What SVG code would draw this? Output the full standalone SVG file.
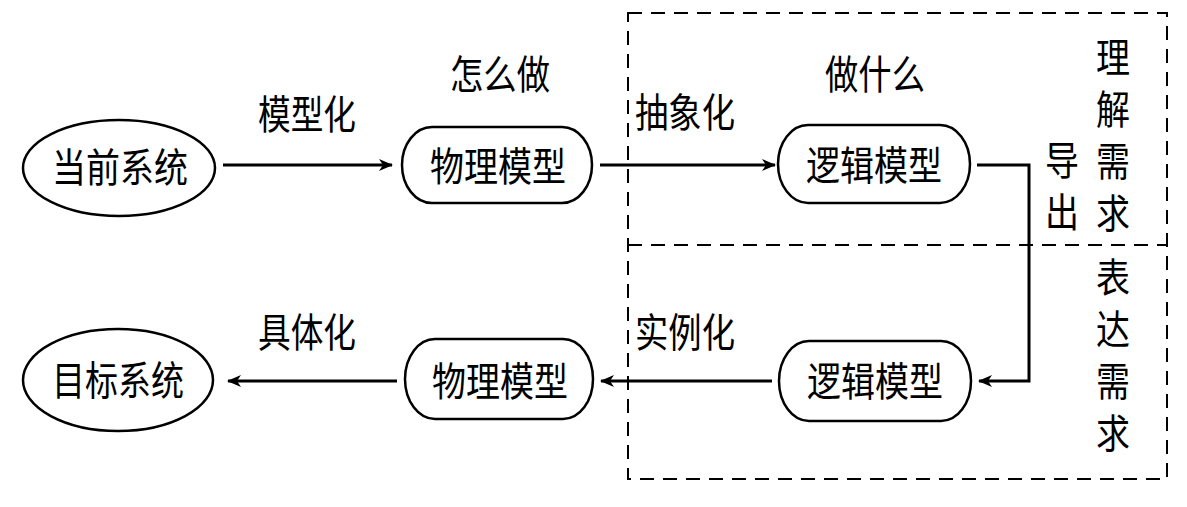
<svg xmlns="http://www.w3.org/2000/svg" width="1187" height="507" viewBox="0 0 1187 507">
<style>
text{font-family:"Noto Sans CJK SC","Noto Sans",sans-serif;font-size:40px;fill:#000;}
.c{text-anchor:middle;}
.v{writing-mode:vertical-rl;text-orientation:upright;letter-spacing:12px;}
.node{fill:#fff;stroke:#000;stroke-width:2.5;}
.conn{fill:none;stroke:#000;stroke-width:3;}
.dash{fill:none;stroke:#000;stroke-width:2;stroke-dasharray:14 9;}
</style>
<defs>
<marker id="arr" viewBox="0 0 14 12" refX="13" refY="6" markerWidth="14" markerHeight="12" markerUnits="userSpaceOnUse" orient="auto">
<path d="M0,0 L14,6 L0,12 L4,6 z" fill="#000"/>
</marker>
</defs>
<g id="frame">
<rect class="dash" x="628" y="13" width="539" height="466"/>
<line class="dash" x1="628" y1="245" x2="1167" y2="245"/>
</g>
<g id="connectors">
<line class="conn" x1="223" y1="165" x2="392" y2="165" marker-end="url(#arr)"/>
<line class="conn" x1="600" y1="165" x2="775" y2="165" marker-end="url(#arr)"/>
<polyline class="conn" points="977,165 1029,165 1029,381 979,381" marker-end="url(#arr)"/>
<line class="conn" x1="772" y1="381" x2="601" y2="381" marker-end="url(#arr)"/>
<line class="conn" x1="397" y1="381" x2="228" y2="381" marker-end="url(#arr)"/>
</g>
<g id="n-current">
<ellipse class="node" cx="119" cy="168" rx="96" ry="48"/>
<text class="c" x="120" y="182" textLength="136" lengthAdjust="spacingAndGlyphs">当前系统</text>
</g>
<g id="n-phys1">
<rect class="node" x="402" y="127" width="190" height="76" rx="30" ry="38"/>
<text class="c" x="498" y="181" textLength="136" lengthAdjust="spacingAndGlyphs">物理模型</text>
</g>
<g id="n-logic1">
<rect class="node" x="778" y="125" width="192" height="78" rx="30" ry="39"/>
<text class="c" x="874" y="180" textLength="136" lengthAdjust="spacingAndGlyphs">逻辑模型</text>
</g>
<g id="n-logic2">
<rect class="node" x="779" y="341" width="192" height="80" rx="30" ry="40"/>
<text class="c" x="875" y="396" textLength="136" lengthAdjust="spacingAndGlyphs">逻辑模型</text>
</g>
<g id="n-phys2">
<rect class="node" x="405" y="339" width="188" height="80" rx="30" ry="40"/>
<text class="c" x="500" y="396" textLength="136" lengthAdjust="spacingAndGlyphs">物理模型</text>
</g>
<g id="n-target">
<ellipse class="node" cx="118" cy="380" rx="95" ry="51"/>
<text class="c" x="118" y="395" textLength="132" lengthAdjust="spacingAndGlyphs">目标系统</text>
</g>
<g id="labels">
<text class="c" x="307" y="129" textLength="98" lengthAdjust="spacingAndGlyphs">模型化</text>
<text class="c" x="500" y="89" textLength="100" lengthAdjust="spacingAndGlyphs">怎么做</text>
<text class="c" x="685" y="127" textLength="100" lengthAdjust="spacingAndGlyphs">抽象化</text>
<text class="c" x="875" y="89" textLength="100" lengthAdjust="spacingAndGlyphs">做什么</text>
<text class="c" x="307" y="347" textLength="98" lengthAdjust="spacingAndGlyphs">具体化</text>
<text class="c" x="685" y="347" textLength="100" lengthAdjust="spacingAndGlyphs">实例化</text>
<g transform="translate(1113,0) scale(0.85,1)"><text class="v" x="0" y="37">理解需求</text></g>
<g transform="translate(1062,0) scale(0.85,1)"><text class="v" x="0" y="140">导出</text></g>
<g transform="translate(1113,0) scale(0.85,1)"><text class="v" x="0" y="257">表达需求</text></g>
</g>
</svg>
